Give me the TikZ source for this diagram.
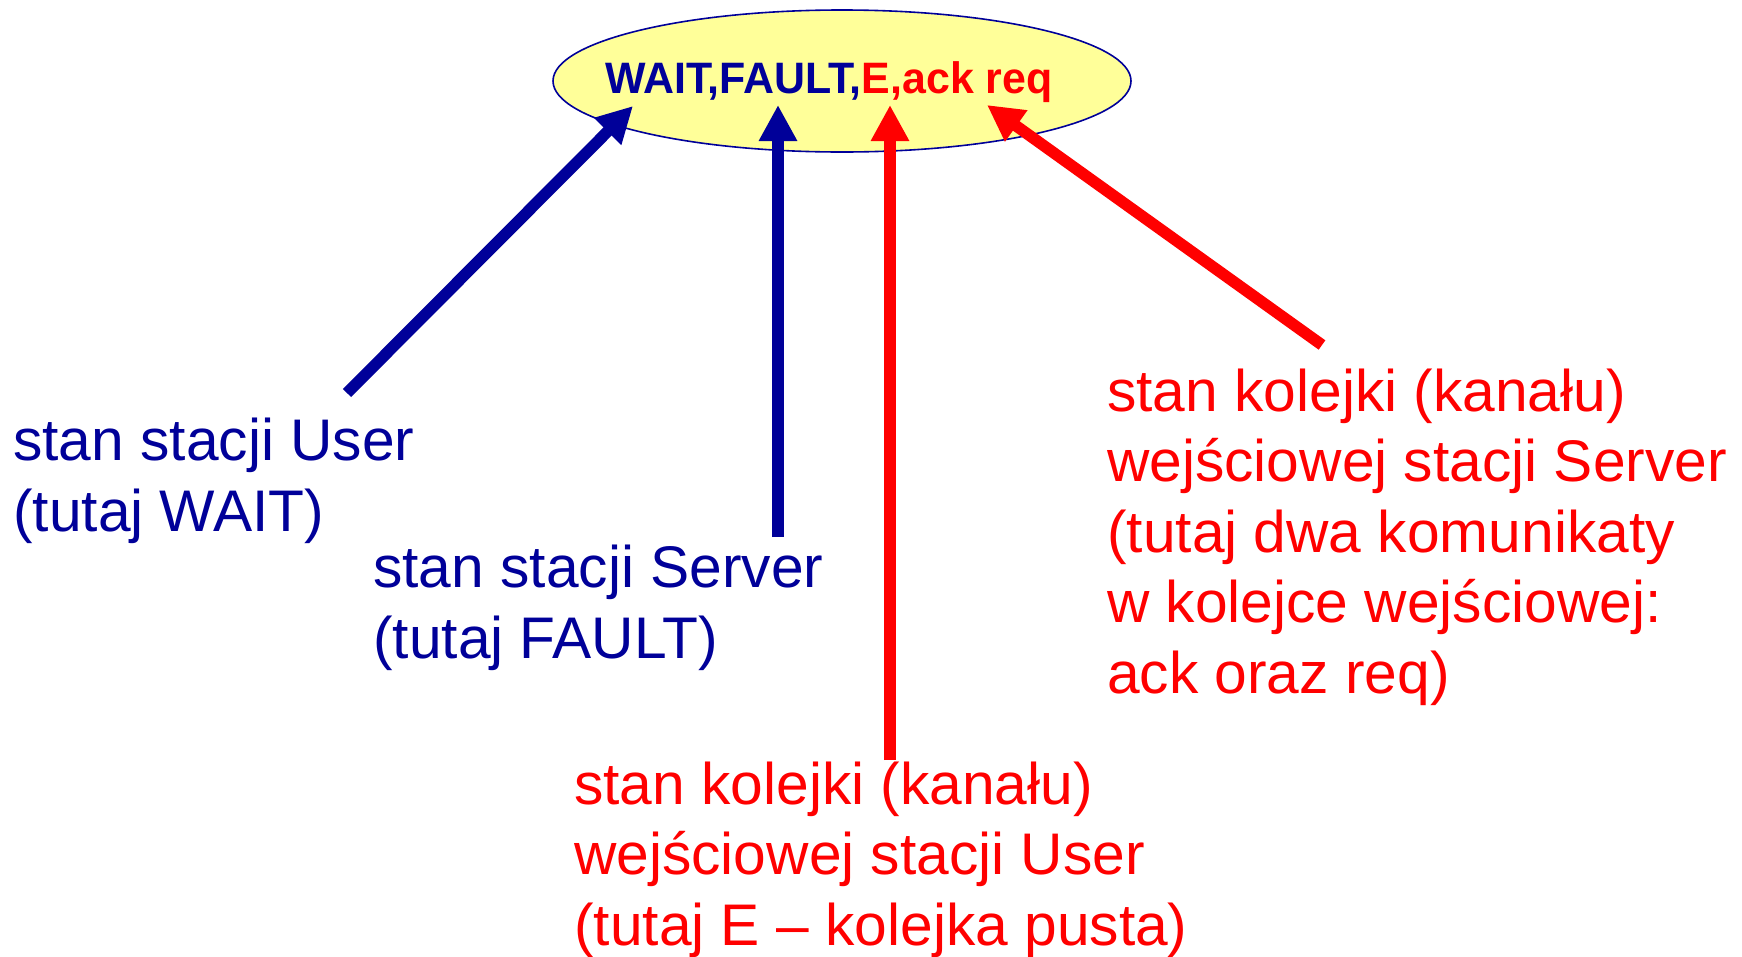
\documentclass[tikz,border=0pt]{standalone}
\usepackage{fontspec}
\setmainfont{Liberation Sans}
\newfontfamily\titlefont{Liberation Sans}[FakeStretch=0.975]
\usetikzlibrary{arrows.meta,shapes.geometric}
\definecolor{navy}{RGB}{0,0,153}
\definecolor{pale}{RGB}{255,255,153}
\definecolor{hotred}{RGB}{255,0,0}
\tikzset{
  statebox/.style={ellipse, draw=navy, line width=1.6pt, fill=pale,
    minimum width=578pt, minimum height=142pt, inner sep=0pt},
  titletext/.style={anchor=base west, inner sep=0pt,
    font={\titlefont\bfseries\fontsize{44}{50}\selectfont}},
  % multi-line notes are placed by the baseline of their last line
  note/.style={anchor=base west, inner sep=0pt, align=left,
    font={\fontsize{58.7}{70.5}\selectfont}},
  pointer/.style={line width=11.5pt, -{Triangle[length=36pt,width=36pt]}}
}
\begin{document}
\begin{tikzpicture}[x=1pt,y=-1pt]
\useasboundingbox (0,0) rectangle (1742,956);

% global state of the system
\node[statebox] (state) at (842,81) {};
\node[titletext] (title) at (605,93)
  {\textcolor{navy}{WAIT,FAULT,}\textcolor{hotred}{E,ack req}};

% descriptions of the components
\node[note, text=navy] (user) at (13,531)
  {stan stacji User\\(tutaj WAIT)};
\node[note, text=navy] (server) at (373,658)
  {stan stacji Server\\(tutaj FAULT)};
\node[note, text=hotred] (userq) at (574,945)
  {stan kolejki (kanału)\\wejściowej stacji User\\(tutaj E – kolejka pusta)};
\node[note, text=hotred] (serverq) at (1107,693)
  {stan kolejki (kanału)\\wejściowej stacji Server\\(tutaj dwa komunikaty\\w kolejce wejściowej:\\ack oraz req)};

% arrow ends
\coordinate (userTail) at (347,393);
\coordinate (userTip) at (633,106);
\coordinate (serverTail) at (778,537);
\coordinate (serverTip) at (778,105);
\coordinate (userqTail) at (890,760);
\coordinate (userqTip) at (890,105);
\coordinate (serverqTail) at (1322,345);
\coordinate (serverqTip) at (987,105);

\draw[pointer, navy] (userTail) -- (userTip);
\draw[pointer, navy] (serverTail) -- (serverTip);
\draw[pointer, hotred] (userqTail) -- (userqTip);
\draw[pointer, hotred] (serverqTail) -- (serverqTip);
\end{tikzpicture}
\end{document}
